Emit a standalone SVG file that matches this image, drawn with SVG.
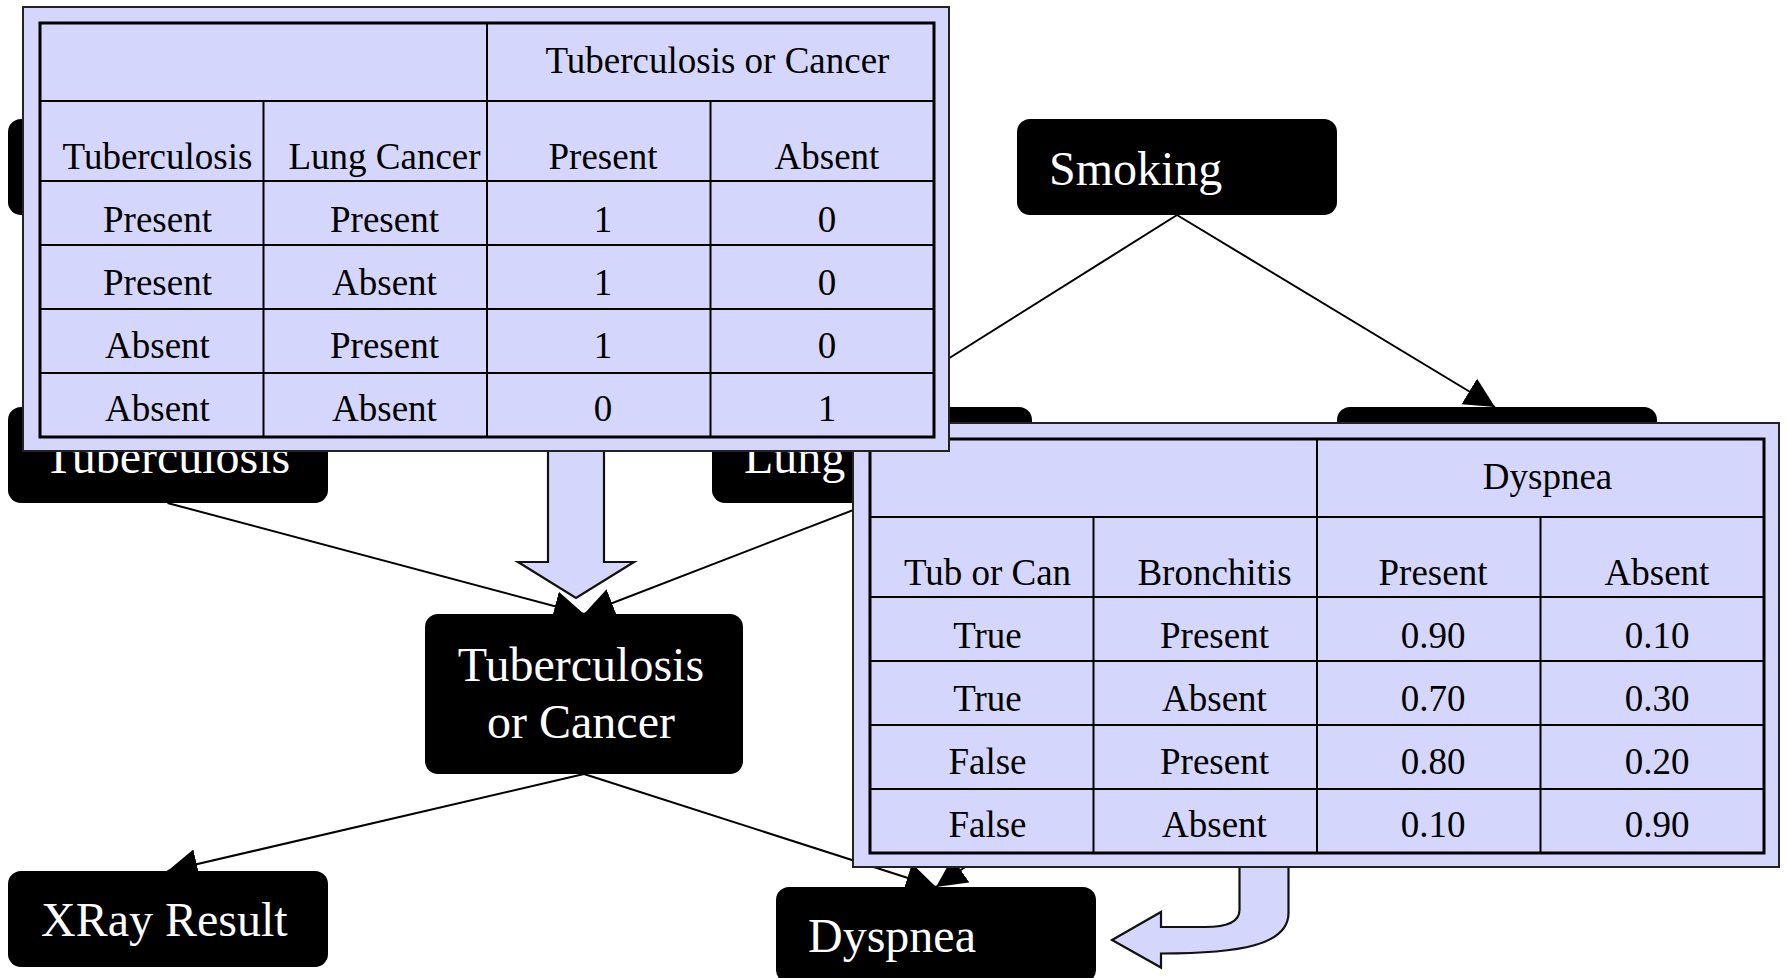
<svg xmlns="http://www.w3.org/2000/svg" width="1787" height="978" viewBox="0 0 1787 978">
  <style>
    .node rect { fill: #000000; }
    .node text { fill: #ffffff; font-family: "Liberation Serif", "Times New Roman", serif; font-size: 48px; }
    .edge { stroke: #000000; stroke-width: 2; fill: none; marker-end: url(#head); }
    .block { fill: #d5d6fc; stroke: #111111; stroke-width: 2.2; stroke-linejoin: miter; }
    .panel { fill: #d5d6fc; stroke: #222222; stroke-width: 2; }
    .grid { fill: none; stroke: #000000; stroke-width: 3; }
    .rule { stroke: #000000; stroke-width: 2; }
    .cell { fill: #000000; font-family: "Liberation Serif", "Times New Roman", serif; font-size: 37px; text-anchor: middle; }
  </style>
  <defs>
    <marker id="head" markerUnits="userSpaceOnUse" markerWidth="32" markerHeight="32" refX="30" refY="15" orient="auto">
      <path d="M0,0 L30,15 L0,30 Z" fill="#000000"/>
    </marker>
  </defs>

  <rect width="1787" height="978" fill="#ffffff"/>

  <!-- network nodes -->
  <g id="node-asia" class="node">
    <rect x="8" y="119" width="320" height="96" rx="13"/>
  </g>
  <g id="node-smoking" class="node">
    <rect x="1017" y="119" width="320" height="96" rx="13"/>
    <text x="1049" y="185">Smoking</text>
  </g>
  <g id="node-tuberculosis" class="node">
    <rect x="8" y="407" width="320" height="96" rx="13"/>
    <text x="44" y="473">Tuberculosis</text>
  </g>
  <g id="node-lung-cancer" class="node">
    <rect x="712" y="407" width="320" height="96" rx="13"/>
    <text x="744" y="473">Lung Cancer</text>
  </g>
  <g id="node-bronchitis" class="node">
    <rect x="1337" y="407" width="320" height="96" rx="13"/>
  </g>
  <g id="node-tub-or-can" class="node">
    <rect x="425" y="614" width="318" height="160" rx="13"/>
    <text x="581" y="681" text-anchor="middle">Tuberculosis</text>
    <text x="581" y="738" text-anchor="middle">or Cancer</text>
  </g>
  <g id="node-xray" class="node">
    <rect x="8" y="871" width="320" height="96" rx="13"/>
    <text x="41" y="936">XRay Result</text>
  </g>
  <g id="node-dyspnea" class="node">
    <rect x="776" y="887" width="320" height="96" rx="13"/>
    <text x="808" y="952">Dyspnea</text>
  </g>

  <!-- causal links -->
  <g id="connectors">
    <line class="edge" x1="1177" y1="215" x2="871.5" y2="407"/>
    <line class="edge" x1="1177" y1="215" x2="1495" y2="407"/>
    <line class="edge" x1="167.5" y1="503" x2="584" y2="614"/>
    <line class="edge" x1="871.5" y1="503" x2="584" y2="614"/>
    <line class="edge" x1="584" y1="774" x2="167.5" y2="871"/>
    <line class="edge" x1="584" y1="774" x2="936" y2="887"/>
    <line class="edge" x1="1497" y1="503" x2="936" y2="887"/>
  </g>

  <!-- table callout pointers -->
  <g id="callout-arrows">
    <polygon class="block" points="548,446 548,562 518,562 576,598 634,562 604,562 604,446"/>
    <path class="block" d="M1239.5,864 L1239.5,910 C1239.5,922 1228,927 1205,927 L1161,927 L1161,912 L1112,940 L1161,967.5 L1161,953.5 C1240,953.5 1288.5,945 1288.5,913 L1288.5,864 Z"/>
  </g>

  <!-- conditional probability table for Dyspnea -->
  <g id="cpt-dyspnea" transform="translate(830,416)">
    <rect class="panel" x="23" y="7" width="926" height="444"/>
    <rect class="grid" x="40" y="23" width="894" height="414"/>
    <line class="rule" x1="40" y1="101" x2="934" y2="101"/>
    <line class="rule" x1="40" y1="181" x2="934" y2="181"/>
    <line class="rule" x1="40" y1="245" x2="934" y2="245"/>
    <line class="rule" x1="40" y1="309" x2="934" y2="309"/>
    <line class="rule" x1="40" y1="373" x2="934" y2="373"/>
    <line class="rule" x1="487" y1="23" x2="487" y2="437"/>
    <line class="rule" x1="263.5" y1="101" x2="263.5" y2="437"/>
    <line class="rule" x1="710.5" y1="101" x2="710.5" y2="437"/>
    <text class="cell" x="717.5" y="72.5">Dyspnea</text>
    <text class="cell" x="157.5" y="168.5">Tub or Can</text>
    <text class="cell" x="384.5" y="168.5">Bronchitis</text>
    <text class="cell" x="603" y="168.5">Present</text>
    <text class="cell" x="827" y="168.5">Absent</text>
    <text class="cell" x="157.5" y="231.5">True</text>
    <text class="cell" x="384.5" y="231.5">Present</text>
    <text class="cell" x="603" y="231.5">0.90</text>
    <text class="cell" x="827" y="231.5">0.10</text>
    <text class="cell" x="157.5" y="294.5">True</text>
    <text class="cell" x="384.5" y="294.5">Absent</text>
    <text class="cell" x="603" y="294.5">0.70</text>
    <text class="cell" x="827" y="294.5">0.30</text>
    <text class="cell" x="157.5" y="357.5">False</text>
    <text class="cell" x="384.5" y="357.5">Present</text>
    <text class="cell" x="603" y="357.5">0.80</text>
    <text class="cell" x="827" y="357.5">0.20</text>
    <text class="cell" x="157.5" y="420.5">False</text>
    <text class="cell" x="384.5" y="420.5">Absent</text>
    <text class="cell" x="603" y="420.5">0.10</text>
    <text class="cell" x="827" y="420.5">0.90</text>
  </g>

  <!-- conditional probability table for Tuberculosis or Cancer -->
  <g id="cpt-tub-or-can">
    <rect class="panel" x="23" y="7" width="926" height="444"/>
    <rect class="grid" x="40" y="23" width="894" height="414"/>
    <line class="rule" x1="40" y1="101" x2="934" y2="101"/>
    <line class="rule" x1="40" y1="181" x2="934" y2="181"/>
    <line class="rule" x1="40" y1="245" x2="934" y2="245"/>
    <line class="rule" x1="40" y1="309" x2="934" y2="309"/>
    <line class="rule" x1="40" y1="373" x2="934" y2="373"/>
    <line class="rule" x1="487" y1="23" x2="487" y2="437"/>
    <line class="rule" x1="263.5" y1="101" x2="263.5" y2="437"/>
    <line class="rule" x1="710.5" y1="101" x2="710.5" y2="437"/>
    <text class="cell" x="717.5" y="72.5">Tuberculosis or Cancer</text>
    <text class="cell" x="157.5" y="168.5">Tuberculosis</text>
    <text class="cell" x="384.5" y="168.5">Lung Cancer</text>
    <text class="cell" x="603" y="168.5">Present</text>
    <text class="cell" x="827" y="168.5">Absent</text>
    <text class="cell" x="157.5" y="231.5">Present</text>
    <text class="cell" x="384.5" y="231.5">Present</text>
    <text class="cell" x="603" y="231.5">1</text>
    <text class="cell" x="827" y="231.5">0</text>
    <text class="cell" x="157.5" y="294.5">Present</text>
    <text class="cell" x="384.5" y="294.5">Absent</text>
    <text class="cell" x="603" y="294.5">1</text>
    <text class="cell" x="827" y="294.5">0</text>
    <text class="cell" x="157.5" y="357.5">Absent</text>
    <text class="cell" x="384.5" y="357.5">Present</text>
    <text class="cell" x="603" y="357.5">1</text>
    <text class="cell" x="827" y="357.5">0</text>
    <text class="cell" x="157.5" y="420.5">Absent</text>
    <text class="cell" x="384.5" y="420.5">Absent</text>
    <text class="cell" x="603" y="420.5">0</text>
    <text class="cell" x="827" y="420.5">1</text>
  </g>
</svg>
